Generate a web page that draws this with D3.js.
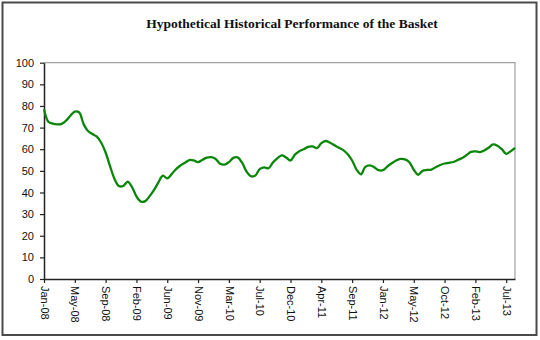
<!DOCTYPE html>
<html><head><meta charset="utf-8">
<script src="https://cdn.jsdelivr.net/npm/d3@7"></script>
<style>html,body{margin:0;padding:0;background:#fff;}svg{display:block;}</style>
</head><body>
<script>
const title = "Hypothetical Historical Performance of the Basket";
const tickLabels = ["Jan-08","May-08","Sep-08","Feb-09","Jun-09","Nov-09","Mar-10","Jul-10","Dec-10","Apr-11","Sep-11","Jan-12","May-12","Oct-12","Feb-13","Jul-13"];
const labelEvery = 7;
const yTicks = [0,10,20,30,40,50,60,70,80,90,100];
const values = [
78.5,72.7,71.8,71.5,71.7,73.2,75.5,77.4,77.0,71.6,
68.4,67.0,65.8,63.0,58.5,52.2,46.4,43.0,43.0,45.0,
42.5,38.2,35.8,36.0,38.3,41.2,44.7,47.8,46.5,48.5,
50.8,52.5,53.7,55.0,54.8,54.0,55.1,56.1,56.3,55.5,
53.3,52.9,54.0,56.0,56.2,53.8,49.7,47.5,47.8,50.8,
51.6,51.2,53.9,55.8,57.2,56.2,54.8,57.5,59.1,60.0,
61.1,61.3,60.5,62.8,63.8,63.0,61.8,60.7,59.6,57.7,
54.8,50.6,48.4,51.8,52.5,51.7,50.3,50.3,52.0,53.5,
54.8,55.5,55.3,54.0,50.5,48.2,50.0,50.4,50.6,51.7,
52.7,53.4,53.7,54.1,55.0,55.9,57.3,58.8,59.0,58.7,
59.4,60.7,62.2,61.6,60.0,57.9,59.0,60.6
];

const W = 540, H = 340;
const pLeft = 44, pRight = 515, pTop = 62.7, pBottom = 279;

const svg = d3.select("body").append("svg").attr("width", W).attr("height", H);

// outer frame
svg.append("rect").attr("x", 2.5).attr("y", 2.5).attr("width", 534).attr("height", 332.5)
  .attr("fill", "#fff").attr("stroke", "#4a4a4a").attr("stroke-width", 2);

svg.append("text").attr("x", 292).attr("y", 28).attr("text-anchor", "middle")
  .attr("font-family", "'Liberation Serif','Times New Roman',serif").attr("font-weight", "bold")
  .attr("font-size", 13.5).attr("fill", "#111").text(title);

const x = d3.scaleLinear().domain([0, values.length - 1]).range([pLeft, pRight]);
const y = d3.scaleLinear().domain([0, 100]).range([pBottom, pTop]);

// plot border (top & right)
svg.append("path").attr("d", `M${pLeft},${pTop}H${pRight}V${pBottom}`)
  .attr("fill", "none").attr("stroke", "#a0a0a0").attr("stroke-width", 1.2);

const tickIdx = tickLabels.map((d, i) => i * labelEvery);

const yAxis = svg.append("g").attr("transform", `translate(${pLeft},0)`)
  .call(d3.axisLeft(y).tickValues(yTicks).tickSize(4).tickPadding(6).tickSizeOuter(0));
yAxis.selectAll("text").attr("font-family", "'Liberation Sans',Arial,sans-serif").attr("font-size", 11).attr("fill", "#111");

const xAxis = svg.append("g").attr("transform", `translate(0,${pBottom})`)
  .call(d3.axisBottom(x).tickValues(tickIdx).tickFormat((d, i) => tickLabels[i]).tickSize(4).tickSizeOuter(0));
xAxis.selectAll("text")
  .attr("font-family", "'Liberation Sans',Arial,sans-serif").attr("font-size", 11).attr("fill", "#111")
  .attr("text-anchor", "start").attr("transform", "rotate(90)")
  .attr("x", 7).attr("y", 0).attr("dy", "0.35em");

[yAxis, xAxis].forEach(a => {
  a.select(".domain").attr("stroke", "#222").attr("stroke-width", 1.5);
  a.selectAll(".tick line").attr("stroke", "#222").attr("stroke-width", 1.2);
});

const line = d3.line().x((d, i) => x(i)).y(d => y(d)).curve(d3.curveCatmullRom.alpha(0.5));
svg.append("path").datum(values).attr("d", line)
  .attr("fill", "none").attr("stroke", "#0a870a").attr("stroke-width", 2.3).attr("stroke-linejoin", "round");
</script>
</body></html>
